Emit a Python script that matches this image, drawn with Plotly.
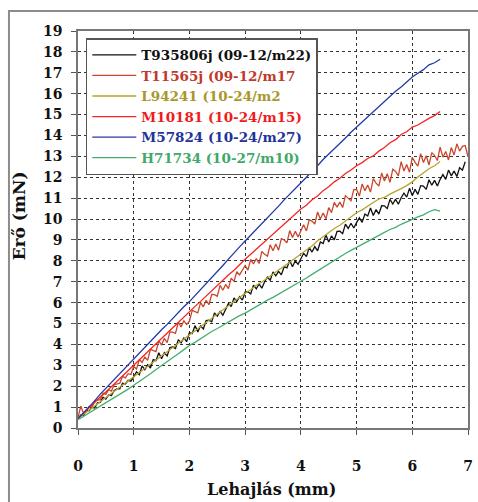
import plotly.graph_objects as go

# ---------------- data ----------------
X_FINE = [0.00, 0.05, 0.10, 0.15, 0.20, 0.25, 0.30, 0.35, 0.40, 0.45,
          0.50, 0.55, 0.60, 0.65, 0.70, 0.75, 0.80, 0.85, 0.90, 0.95,
          1.00, 1.05, 1.10, 1.15, 1.20, 1.25, 1.30, 1.35, 1.40, 1.45,
          1.50, 1.55, 1.60, 1.65, 1.70, 1.75, 1.80, 1.85, 1.90, 1.95,
          2.00, 2.05, 2.10, 2.15, 2.20, 2.25, 2.30, 2.35, 2.40, 2.45,
          2.50, 2.55, 2.60, 2.65, 2.70, 2.75, 2.80, 2.85, 2.90, 2.95,
          3.00, 3.05, 3.10, 3.15, 3.20, 3.25, 3.30, 3.35, 3.40, 3.45,
          3.50, 3.55, 3.60, 3.65, 3.70, 3.75, 3.80, 3.85, 3.90, 3.95,
          4.00, 4.05, 4.10, 4.15, 4.20, 4.25, 4.30, 4.35, 4.40, 4.45,
          4.50, 4.55, 4.60, 4.65, 4.70, 4.75, 4.80, 4.85, 4.90, 4.95,
          5.00, 5.05, 5.10, 5.15, 5.20, 5.25, 5.30, 5.35, 5.40, 5.45,
          5.50, 5.55, 5.60, 5.65, 5.70, 5.75, 5.80, 5.85, 5.90, 5.95,
          6.00, 6.05, 6.10, 6.15, 6.20, 6.25, 6.30, 6.35, 6.40, 6.45,
          6.50, 6.55, 6.60, 6.65, 6.70, 6.75, 6.80, 6.85, 6.90, 6.95,
          7.00]
X_COARSE = X_FINE[::2]

# T935806j (09-12/m22) - black, noisy, x step 0.05
Y_T935806J = [0.45, 0.62, 0.60, 0.86, 0.82, 0.99, 0.96, 1.21, 1.23, 1.47,
              1.38, 1.58, 1.55, 1.80, 1.87, 1.87, 2.14, 2.11, 2.28, 2.24,
              2.45, 2.69, 2.55, 2.97, 2.79, 3.03, 2.87, 3.27, 3.22, 3.60,
              3.31, 3.60, 3.45, 3.85, 3.88, 3.80, 4.23, 4.07, 4.31, 4.13,
              4.57, 4.52, 4.90, 4.60, 4.89, 4.74, 5.14, 5.16, 5.08, 5.51,
              5.35, 5.58, 5.40, 5.72, 5.96, 5.81, 6.23, 6.05, 6.29, 6.12,
              6.50, 6.52, 6.42, 6.84, 6.66, 6.89, 6.69, 7.00, 7.22, 7.07,
              7.47, 7.28, 7.50, 7.33, 7.72, 7.66, 8.02, 7.72, 8.00, 7.83,
              8.12, 8.36, 8.20, 8.64, 8.42, 8.68, 8.48, 8.90, 8.83, 9.24,
              8.90, 9.19, 9.00, 9.41, 9.42, 9.30, 9.76, 9.55, 9.80, 9.57,
              9.83, 10.06, 9.84, 10.24, 10.15, 10.53, 10.17, 10.45, 10.24, 10.64,
              10.63, 10.50, 10.94, 10.72, 10.95, 10.71, 11.02, 11.24, 11.05, 11.47,
              11.13, 11.42, 11.18, 11.60, 11.58, 11.42, 11.88, 11.62, 11.85, 11.58,
              11.90, 12.13, 11.90, 12.34, 12.07, 12.30, 12.04, 12.46, 12.34, 12.74]

# T11565j (09-12/m17) - brown-red, very noisy, x step 0.05
Y_T11565J = [0.50, 1.05, 0.69, 0.85, 1.03, 0.99, 1.31, 1.33, 1.36, 1.67,
             1.61, 1.83, 1.77, 2.08, 2.12, 2.14, 2.47, 2.40, 2.60, 2.56,
             2.95, 2.82, 3.28, 3.14, 3.39, 3.24, 3.76, 3.70, 3.66, 4.17,
             3.97, 4.29, 4.09, 4.60, 4.59, 4.53, 5.06, 4.84, 5.13, 4.95,
             5.11, 5.63, 5.55, 5.51, 6.00, 5.80, 6.11, 5.90, 6.39, 6.38,
             6.30, 6.83, 6.59, 6.87, 6.67, 7.17, 7.02, 7.48, 7.33, 7.57,
             7.78, 7.56, 8.07, 7.85, 8.11, 7.87, 8.45, 8.31, 8.22, 8.77,
             8.48, 8.81, 8.51, 9.06, 9.00, 8.86, 9.45, 9.12, 9.41, 9.14,
             9.41, 9.73, 9.43, 9.97, 9.90, 9.76, 10.34, 10.00, 10.29, 10.01,
             10.55, 10.31, 10.80, 10.57, 10.81, 10.55, 11.12, 10.97, 10.87, 11.41,
             11.42, 11.10, 11.68, 11.36, 11.63, 11.29, 11.94, 11.72, 11.58, 12.20,
             11.82, 12.17, 11.76, 12.39, 12.28, 12.07, 12.75, 12.30, 12.61, 12.24,
             12.96, 12.71, 12.53, 13.13, 12.71, 13.03, 12.59, 13.18, 13.04, 12.80,
             13.44, 12.96, 13.23, 12.83, 13.42, 13.07, 13.60, 13.25, 13.48, 13.52,
             12.98]

# L94241 (10-24/m2) - olive, x step 0.1
Y_L94241 = [0.45, 0.65, 0.86, 1.04, 1.26, 1.45, 1.66, 1.84, 2.06, 2.24,
            2.45, 2.66, 2.84, 3.06, 3.24, 3.46, 3.64, 3.86, 4.04, 4.26,
            4.47, 4.64, 4.86, 5.04, 5.26, 5.44, 5.66, 5.84, 6.06, 6.24,
            6.45, 6.62, 6.83, 6.99, 7.19, 7.36, 7.56, 7.74, 7.93, 8.11,
            8.30, 8.53, 8.71, 8.96, 9.17, 9.38, 9.55, 9.70, 9.89, 10.09,
            10.30, 10.44, 10.63, 10.79, 10.96, 11.04, 11.19, 11.31, 11.46, 11.60,
            11.78, 12.01, 12.21, 12.41, 12.55, 12.75]

# M10181 (10-24/m15) - red, x step 0.1
Y_M10181 = [0.45, 0.72, 0.96, 1.22, 1.48, 1.72, 1.98, 2.25, 2.48, 2.76,
            3.00, 3.28, 3.52, 3.78, 4.04, 4.28, 4.56, 4.80, 5.05, 5.32,
            5.56, 5.82, 6.06, 6.32, 6.56, 6.82, 7.06, 7.32, 7.55, 7.84,
            8.08, 8.32, 8.56, 8.78, 9.04, 9.26, 9.52, 9.72, 10.00, 10.22,
            10.48, 10.66, 10.92, 11.10, 11.36, 11.55, 11.78, 11.95, 12.18, 12.35,
            12.55, 12.70, 12.90, 13.02, 13.25, 13.42, 13.65, 13.80, 14.05, 14.18,
            14.40, 14.50, 14.68, 14.82, 14.95, 15.15]

# M57824 (10-24/m27) - blue, x step 0.1
Y_M57824 = [0.45, 0.72, 1.02, 1.30, 1.62, 1.90, 2.20, 2.47, 2.78, 3.05,
            3.35, 3.60, 3.88, 4.15, 4.42, 4.70, 4.96, 5.25, 5.50, 5.80,
            6.05, 6.33, 6.62, 6.90, 7.22, 7.50, 7.78, 8.08, 8.35, 8.67,
            8.95, 9.22, 9.52, 9.78, 10.08, 10.35, 10.62, 10.92, 11.18, 11.48,
            11.75, 12.00, 12.30, 12.55, 12.85, 13.10, 13.35, 13.62, 13.88, 14.15,
            14.40, 14.62, 14.90, 15.12, 15.40, 15.65, 15.88, 16.12, 16.32, 16.58,
            16.80, 16.98, 17.15, 17.38, 17.48, 17.65]

# H71734 (10-27/m10) - green, x step 0.1
Y_H71734 = [0.40, 0.56, 0.74, 0.88, 1.06, 1.20, 1.38, 1.52, 1.72, 1.86,
            2.05, 2.22, 2.42, 2.60, 2.80, 2.98, 3.18, 3.36, 3.55, 3.75,
            3.95, 4.10, 4.28, 4.42, 4.62, 4.76, 4.92, 5.10, 5.22, 5.38,
            5.50, 5.66, 5.82, 5.95, 6.12, 6.25, 6.40, 6.55, 6.70, 6.84,
            7.00, 7.18, 7.35, 7.52, 7.70, 7.86, 8.05, 8.18, 8.35, 8.50,
            8.65, 8.80, 8.92, 9.08, 9.22, 9.36, 9.50, 9.60, 9.75, 9.85,
            9.98, 10.10, 10.20, 10.35, 10.45, 10.38]

SERIES_NAMES = ["T935806j (09-12/m22)", "T11565j (09-12/m17",
                "L94241 (10-24/m2", "M10181 (10-24/m15)",
                "M57824 (10-24/m27)", "H71734 (10-27/m10)"]
LINE_COLORS = ["#111111", "#C9472C", "#B5A52E", "#F42424", "#2438A8", "#45AE6E"]
TEXT_COLORS = ["#111111", "#C0392B", "#A8982C", "#F01C1C", "#1F3399", "#3FA86A"]

X_TICKS = [0, 1, 2, 3, 4, 5, 6, 7]
Y_TICKS = list(range(0, 20))
X_TITLE = "Lehajlás (mm)"
Y_TITLE = "Erő (mN)"

# ---------------- figure ----------------
series = [
    (X_FINE[:len(Y_T935806J)], Y_T935806J),
    (X_FINE[:len(Y_T11565J)], Y_T11565J),
    (X_COARSE[:len(Y_L94241)], Y_L94241),
    (X_COARSE[:len(Y_M10181)], Y_M10181),
    (X_COARSE[:len(Y_M57824)], Y_M57824),
    (X_COARSE[:len(Y_H71734)], Y_H71734),
]

FONT = "DejaVu Serif"
fig = go.Figure()
for (xs, ys), name, lc, tc in zip(series, SERIES_NAMES, LINE_COLORS, TEXT_COLORS):
    fig.add_trace(go.Scatter(
        x=xs, y=ys, mode="lines",
        line=dict(color=lc, width=1.3),
        name=f'<span style="color:{tc}">{name}</span>',
    ))

axis_common = dict(
    showline=True, mirror=True, linecolor="#777777", linewidth=1.5,
    ticks="outside", ticklen=5, tickwidth=1, tickcolor="#555555",
    showgrid=True, gridcolor="#333333", gridwidth=1, griddash="3px,3px",
    zeroline=False,
    tickfont=dict(family=FONT, size=14, color="#111111", weight="bold"),
)

fig.update_xaxes(range=[0, 7], tickvals=X_TICKS, ticklabelstandoff=19, **axis_common)
fig.update_yaxes(range=[0, 19], tickvals=Y_TICKS, ticklabelstandoff=6, **axis_common)

fig.update_layout(
    width=478, height=502,
    margin=dict(l=78, r=5, t=31, b=74),
    paper_bgcolor="white", plot_bgcolor="white",
    showlegend=True,
    legend=dict(
        x=0.02, y=0.982, xanchor="left", yanchor="top",
        bgcolor="white", bordercolor="#555555", borderwidth=1.5,
        font=dict(family=FONT, size=13.5, color="#111111", weight="bold"),
        itemwidth=44, tracegroupgap=0,
    ),
    annotations=[
        dict(text=X_TITLE, xref="paper", yref="paper", x=0.497, y=-0.156,
             xanchor="center", yanchor="middle", showarrow=False,
             font=dict(family=FONT, size=16, color="#111111", weight="bold")),
        dict(text=Y_TITLE, xref="paper", yref="paper", x=-0.152, y=0.535,
             xanchor="center", yanchor="middle", showarrow=False, textangle=-90,
             font=dict(family=FONT, size=17, color="#111111", weight="bold")),
    ],
    shapes=[
        dict(type="rect", xref="paper", yref="paper",
             x0=-0.177, x1=1.2, y0=-0.3, y1=1.0504,
             line=dict(color="#8c8c8c", width=2), layer="below"),
    ],
)

fig.write_html("out.html")
